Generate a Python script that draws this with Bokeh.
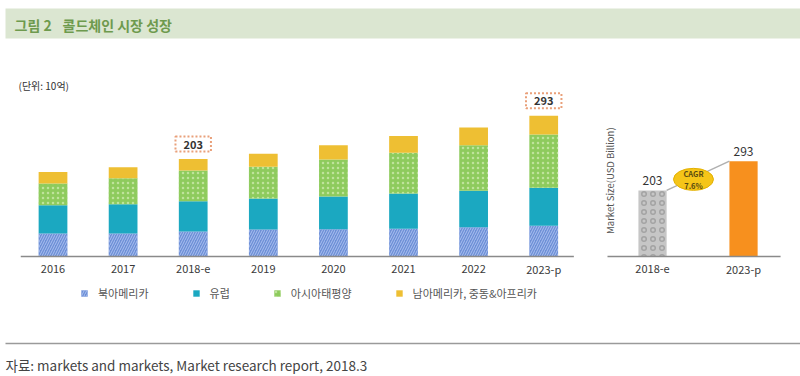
import numpy as np
from math import pi
from bokeh.plotting import figure
from bokeh.models import Range1d, Label, Legend, LegendItem
from bokeh.core.properties import value
from bokeh.embed import file_html
from bokeh.resources import INLINE

# ---------------- data ----------------
title_tag = "그림 2"
title_text = "콜드체인 시장 성장"
unit_text = "(단위: 10억)"
source_text = "자료: markets and markets, Market research report, 2018.3"

years = ["2016", "2017", "2018-e", "2019", "2020", "2021", "2022", "2023-p"]
north_america = [48, 48, 52, 56, 57, 58, 61, 64]
europe = [59, 61, 63, 65, 68, 73, 76, 79]
asia_pacific = [45, 54, 64, 66, 77, 85, 95, 111]
latam_mea = [24, 23, 24, 27, 30, 35, 37, 39]
series_names = ["북아메리카", "유럽", "아시아태평양", "남아메리카, 중동&아프리카"]
highlight_years = ["2018-e", "2023-p"]

cagr_years = ["2018-e", "2023-p"]
cagr_values = [203, 293]
cagr_text = "CAGR\n7.6%"
cagr_axis_label = "Market Size(USD Billion)"

# ---------------- styles ----------------
series_colors = ["#6d8fd6", "#1ba8c1", "#8ecb5d", "#eebf33"]
series_hatch = ["right_diagonal_line", None, "dot", None]
series_hatch_color = ["#a9c0f0", None, "#bfe39c", None]
cagr_colors = ["#c6c6c6", "#f7901e"]
FONT = value("Noto Sans CJK KR")
W, H = 800, 376

p = figure(width=W, height=H, output_backend="svg", toolbar_location=None,
           x_axis_location=None, y_axis_location=None, min_border=0,
           x_range=Range1d(-0.749, 10.663), y_range=Range1d(-250, 533.33),
           outline_line_color=None)
p.grid.grid_line_color = None
p.extra_x_ranges = {"r": Range1d(-7.165, 1.626), "px": Range1d(0, W)}
p.extra_y_ranges = {"r": Range1d(-368.7, 786.5), "py": Range1d(H, 0)}

# title banner
p.quad(left=[5], right=[W], top=[8], bottom=[38], x_range_name="px", y_range_name="py",
       fill_color="#dbe6d1", line_color=None)
p.text(x=[14, 62], y=[24, 24], text=[title_tag, title_text], x_range_name="px", y_range_name="py",
       text_font=FONT, text_font_style="bold", text_font_size="14px", text_color="#6e9a4e",
       text_baseline="middle")
p.text(x=[18], y=[85], text=[unit_text], x_range_name="px", y_range_name="py",
       text_font=FONT, text_font_size="10px", text_color="#333333", text_baseline="middle")

# main stacked bars
n = len(years)
idx = list(range(n))
series = [north_america, europe, asia_pacific, latam_mea]
bottom = np.zeros(n)
renderers = []
for vals, color, hp, hc in zip(series, series_colors, series_hatch, series_hatch_color):
    top = bottom + np.array(vals, dtype=float)
    kw = {}
    if hp:
        kw = dict(hatch_pattern=hp, hatch_color=hc, hatch_scale=5, hatch_weight=1)
    r = p.vbar(x=idx, bottom=bottom, top=top, width=0.41, fill_color=color, line_color=None, **kw)
    renderers.append(r)
    bottom = top
totals = bottom

p.segment(x0=[-0.46], y0=[0], x1=[n - 1 + 0.43], y1=[0], line_color="#8a8a8a", line_width=1.5)
p.text(x=idx, y=[0] * n, text=years, y_offset=13, text_align="center", text_baseline="middle",
       text_font=FONT, text_font_size="11px", text_color="#3a3a3a")

for yr in highlight_years:
    i = years.index(yr)
    p.add_layout(Label(x=i, y=totals[i], text=str(int(totals[i])), y_offset=15,
                       text_align="center", text_baseline="middle", text_font="Noto Sans CJK KR",
                       text_font_size="11px", text_font_style="bold", text_color="#333333",
                       border_line_color="#e9a07a", border_line_dash="2 2", border_line_width=2,
                       background_fill_color="white", padding=(8, 3)))

legend = Legend(items=[LegendItem(label=nm, renderers=[r]) for nm, r in zip(series_names, renderers)],
                orientation="horizontal", location=(80, 75), glyph_width=8, glyph_height=8,
                label_height=12, label_standoff=10, spacing=43, padding=0, margin=0,
                border_line_color=None, background_fill_alpha=0,
                label_text_font="Noto Sans CJK KR", label_text_font_size="11px",
                label_text_color="#555555")
p.add_layout(legend, "center")

# right chart: CAGR
ridx = list(range(len(cagr_years)))
p.vbar(x=[ridx[0]], top=[cagr_values[0]], bottom=0, width=0.31, fill_color=cagr_colors[0],
       line_color=None, hatch_pattern="ring", hatch_color="#a3a3a3", hatch_scale=9, hatch_weight=1.5,
       x_range_name="r", y_range_name="r")
p.vbar(x=[ridx[1]], top=[cagr_values[1]], bottom=0, width=0.31, fill_color=cagr_colors[1],
       line_color=None, x_range_name="r", y_range_name="r")
p.segment(x0=[ridx[0] + 0.155], y0=[cagr_values[0]], x1=[ridx[1] - 0.155], y1=[cagr_values[1]],
          line_color="#b0b0b0", line_width=1.5, x_range_name="r", y_range_name="r")
p.segment(x0=[-0.495], y0=[0], x1=[1.407], y1=[0], line_color="#8a8a8a", line_width=1.5,
          x_range_name="r", y_range_name="r")
cx = (ridx[0] + ridx[1]) / 2 - 0.05
cy = (cagr_values[0] + cagr_values[1]) / 2 - 11
p.ellipse(x=[cx], y=[cy], width=40, height=22, width_units="screen", height_units="screen",
          fill_color="#f5c518", line_color="#e3b000", x_range_name="r", y_range_name="r")
p.text(x=[cx], y=[cy], text=[cagr_text], text_align="center", text_baseline="middle",
       text_font=FONT, text_font_style="bold", text_font_size="7.5px", text_color="#5a4a10",
       text_line_height=1.1, x_range_name="r", y_range_name="r")
p.text(x=ridx, y=cagr_values, text=[str(v) for v in cagr_values], y_offset=-10,
       text_align="center", text_baseline="middle", text_font=FONT, text_font_size="12px",
       text_color="#333333", x_range_name="r", y_range_name="r")
p.text(x=ridx, y=[0, 0], text=cagr_years, y_offset=13, text_align="center", text_baseline="middle",
       text_font=FONT, text_font_size="11px", text_color="#3a3a3a", x_range_name="r", y_range_name="r")
p.text(x=[-0.47], y=[233], text=[cagr_axis_label], angle=pi / 2, text_align="center",
       text_baseline="middle", text_font=FONT, text_font_size="9.5px", text_color="#555555",
       x_range_name="r", y_range_name="r")

# footer
p.segment(x0=[5], y0=[343], x1=[W], y1=[343], line_color="#9a9a9a", line_width=1.5,
          x_range_name="px", y_range_name="py")
p.text(x=[5], y=[364], text=[source_text], text_baseline="alphabetic", text_font=FONT,
       text_font_size="13.5px", text_color="#444444", x_range_name="px", y_range_name="py")

open("out.html", "w").write(file_html(p, INLINE))
